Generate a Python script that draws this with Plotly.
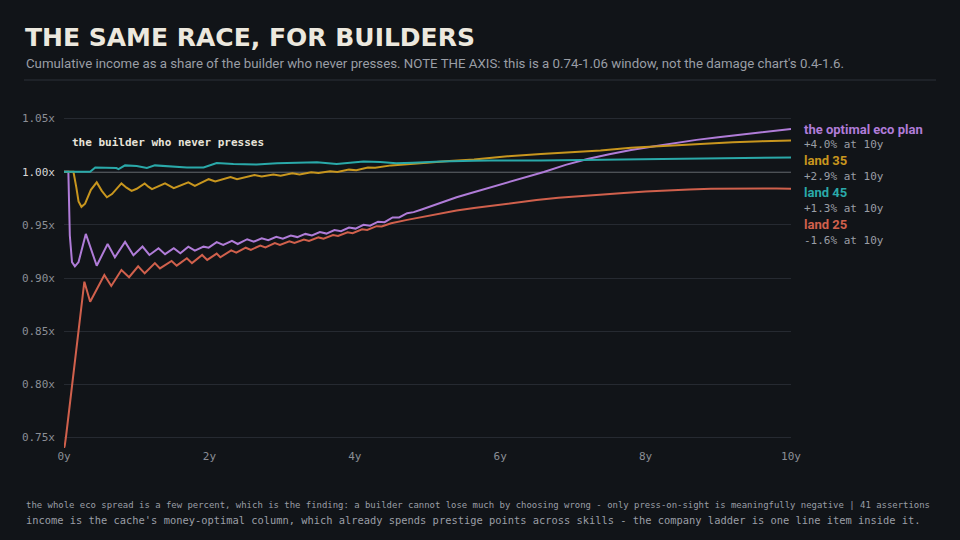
import plotly.graph_objects as go

# ---------------- data ----------------
opt_t = [0, 0.06, 0.08, 0.11, 0.15, 0.20, 0.30, 0.45, 0.60, 0.70, 0.84, 0.955, 1.08, 1.175, 1.30, 1.39,
         1.51, 1.60, 1.71, 1.80, 1.92, 1.99, 2.10, 2.19, 2.31, 2.39, 2.52, 2.61, 2.72, 2.81, 2.92, 3.01,
         3.12, 3.21, 3.32, 3.41, 3.52, 3.61, 3.72, 3.81, 3.92, 4.01, 4.12, 4.21, 4.32, 4.41, 4.52, 4.61,
         4.72, 4.81, 4.92, 5.0, 5.2, 5.4, 5.6, 5.8, 6.0, 6.3, 6.6, 6.9, 7.2, 7.5, 7.8, 8.1, 8.4, 8.7,
         9.0, 9.3, 9.6, 10.0]
opt_v = [1.0, 1.0, 0.940, 0.915, 0.911, 0.915, 0.9415, 0.9116, 0.932, 0.9195, 0.934, 0.9214, 0.9296, 0.9217,
         0.928, 0.9224, 0.928, 0.9233, 0.9295, 0.9258, 0.9295, 0.9286, 0.9337, 0.9311, 0.935, 0.932, 0.9365,
         0.9342, 0.9374, 0.9355, 0.9388, 0.9370, 0.9400, 0.9385, 0.9415, 0.9400, 0.9432, 0.9418, 0.9452,
         0.9440, 0.9475, 0.9465, 0.9500, 0.9492, 0.9530, 0.9525, 0.9570, 0.9570, 0.9610, 0.9620, 0.9645,
         0.9665, 0.9715, 0.9760, 0.9800, 0.9840, 0.9875, 0.9935, 0.9998, 1.0065, 1.0120, 1.0165, 1.0205,
         1.0237, 1.0270, 1.0300, 1.0325, 1.0348, 1.0372, 1.0403]

l35_t = [0, 0.13, 0.17, 0.20, 0.24, 0.29, 0.37, 0.45, 0.52, 0.59, 0.66, 0.79, 0.86, 0.93, 1.0, 1.11,
         1.16, 1.21, 1.39, 1.51, 1.71, 1.80, 1.99, 2.08, 2.29, 2.38, 2.62, 2.72, 2.88, 2.98, 3.14, 3.24,
         3.40, 3.50, 3.66, 3.76, 3.92, 4.02, 4.18, 4.28, 4.5, 4.72, 5.0, 5.3, 5.64, 5.9, 6.1, 6.56, 7.0,
         7.38, 7.8, 8.3, 8.76, 9.2, 9.6, 10.0]
l35_v = [1.0, 1.0, 0.985, 0.972, 0.967, 0.970, 0.983, 0.990, 0.982, 0.976, 0.979, 0.989, 0.985, 0.982,
         0.984, 0.989, 0.986, 0.9837, 0.989, 0.9846, 0.990, 0.9868, 0.993, 0.9909, 0.995, 0.993, 0.997,
         0.9955, 0.9975, 0.9962, 0.9985, 0.9975, 0.9995, 0.9988, 1.0005, 0.9998, 1.0020, 1.0015, 1.0040,
         1.0038, 1.0060, 1.0072, 1.0090, 1.0102, 1.0115, 1.0132, 1.0145, 1.0168, 1.0185, 1.0201, 1.0225,
         1.0245, 1.0264, 1.0278, 1.0288, 1.0295]

l45_t = [0, 0.36, 0.43, 0.72, 0.75, 0.84, 1.0, 1.14, 1.25, 1.51, 1.69, 1.92, 2.10, 2.33, 2.65, 2.93,
         3.25, 3.48, 3.75, 4.12, 4.35, 4.57, 4.8, 5.18, 5.64, 5.87, 6.56, 7.0, 8.07, 9.0, 10.0]
l45_v = [1.0, 1.0, 1.004, 1.0035, 1.0025, 1.006, 1.0055, 1.0035, 1.006, 1.0045, 1.004, 1.004, 1.0082,
         1.0072, 1.0068, 1.008, 1.0088, 1.009, 1.0072, 1.0097, 1.0092, 1.0080, 1.0085, 1.0097, 1.0104,
         1.0107, 1.0107, 1.011, 1.0123, 1.013, 1.0135]

l25_t = [0, 0.01, 0.03, 0.28, 0.36, 0.555, 0.65, 0.79, 0.895, 1.02, 1.11, 1.25, 1.32, 1.48, 1.55, 1.69,
         1.76, 1.90, 1.97, 2.10, 2.15, 2.30, 2.37, 2.50, 2.57, 2.70, 2.77, 2.90, 2.97, 3.10, 3.17, 3.30,
         3.37, 3.50, 3.57, 3.70, 3.77, 3.90, 3.97, 4.10, 4.17, 4.30, 4.37, 4.50, 4.72, 5.0, 5.2, 5.4,
         5.64, 5.9, 6.2, 6.5, 6.8, 7.1, 7.4, 7.7, 8.0, 8.3, 8.6, 8.9, 9.2, 9.5, 9.8, 10.0]
l25_v = [0.740, 0.742, 0.752, 0.8965, 0.8776, 0.9028, 0.8925, 0.9075, 0.9007, 0.911, 0.9044, 0.914, 0.909,
         0.916, 0.9116, 0.9186, 0.914, 0.9217, 0.917, 0.923, 0.9195, 0.9260, 0.9238, 0.9285, 0.9265, 0.9305,
         0.9288, 0.9328, 0.9312, 0.9345, 0.9330, 0.9362, 0.9348, 0.9382, 0.9370, 0.9405, 0.9395, 0.9430,
         0.9422, 0.9458, 0.9452, 0.9488, 0.9485, 0.9515, 0.9547, 0.9585, 0.9612, 0.9635, 0.9658, 0.9682,
         0.9710, 0.9735, 0.9755, 0.9772, 0.9785, 0.9800, 0.9815, 0.9826, 0.9834, 0.9840, 0.9843, 0.9843,
         0.9842, 0.9840]

series_names = ["the optimal eco plan", "land 35", "land 45", "land 25"]
series_notes = ["+4.0% at 10y", "+2.9% at 10y", "+1.3% at 10y", "-1.6% at 10y"]

y_ticks = [0.75, 0.80, 0.85, 0.90, 0.95, 1.00, 1.05]
x_ticks = [0, 2, 4, 6, 8, 10]

title = "THE SAME RACE, FOR BUILDERS"
subtitle = ("Cumulative income as a share of the builder who never presses. NOTE THE AXIS: "
            "this is a 0.74-1.06 window, not the damage chart's 0.4-1.6.")
baseline_label = "the builder who never presses"
foot1 = ("the whole eco spread is a few percent, which is the finding: a builder cannot lose much by "
         "choosing wrong - only press-on-sight is meaningfully negative | 41 assertions")
foot2 = ("income is the cache's money-optimal column, which already spends prestige points across "
         "skills - the company ladder is one line item inside it.")

# ---------------- style ----------------
BG = "#111418"
GRID = "#262a31"
colors = ["#b07cd8", "#c8961e", "#2aa9a9", "#d0604c"]
MONO = "DejaVu Sans Mono"
SANS = "Roboto"

W_FIG, H_FIG = 960, 540
L, R, T, B = 64, 169, 108, 92
PW, PH = W_FIG - L - R, H_FIG - T - B


def px(x):
    return (x - L) / PW


def py(y):
    return (H_FIG - B - y) / PH


fig = go.Figure()
for t, v, c, n in zip([opt_t, l35_t, l45_t, l25_t], [opt_v, l35_v, l45_v, l25_v], colors, series_names):
    fig.add_trace(go.Scatter(x=t, y=v, mode="lines", name=n, line=dict(color=c, width=2),
                             hoverinfo="skip"))

ticktext = []
for v in y_ticks:
    s = f"{v:.2f}x"
    if abs(v - 1.0) < 1e-9:
        s = f"<span style='color:#d8d8d8'>{s}</span>"
    ticktext.append(s)

fig.update_layout(
    width=W_FIG, height=H_FIG,
    paper_bgcolor=BG, plot_bgcolor=BG,
    margin=dict(l=L, r=R, t=T, b=B),
    showlegend=False,
    xaxis=dict(range=[0, 10], tickvals=x_ticks, ticktext=[f"{v}y" for v in x_ticks],
               showgrid=False, zeroline=False, showline=False, ticks="",
               tickfont=dict(family=MONO, size=11, color="#8b8f96")),
    yaxis=dict(range=[0.74, 1.06], tickvals=y_ticks, ticktext=ticktext,
               showgrid=True, gridcolor=GRID, gridwidth=1, zeroline=False, showline=False,
               ticks="", ticklabelstandoff=8,
               tickfont=dict(family=MONO, size=11, color="#8b8f96")),
)

fig.add_shape(type="line", xref="paper", yref="y", x0=0, x1=1, y0=1.0, y1=1.0,
              line=dict(color="#8a8d92", width=1.5), layer="below")
fig.add_shape(type="line", xref="paper", yref="paper", x0=px(24), x1=px(936), y0=py(80), y1=py(80),
              line=dict(color="#2c3038", width=1))

ann = []
ann.append(dict(text=f"<b>{title}</b>", x=px(23), y=py(37), xanchor="left", yanchor="middle",
                font=dict(family="DejaVu Sans", size=25, color="#ece8de")))
ann.append(dict(text=subtitle, x=px(24), y=py(63), xanchor="left", yanchor="middle",
                font=dict(family=SANS, size=13.25, color="#9a9ea6")))
ann.append(dict(text=f"<b>{baseline_label}</b>", x=px(70), y=py(142), xanchor="left", yanchor="middle",
                font=dict(family=MONO, size=11, color="#e8e4da")))
label_y = [129, 160.5, 192.3, 224.3]
for name, note, c, yy in zip(series_names, series_notes, colors, label_y):
    ann.append(dict(text=f"<b>{name}</b>", x=px(802), y=py(yy), xanchor="left", yanchor="middle",
                    font=dict(family=SANS, size=13, color=c)))
    ann.append(dict(text=note, x=px(802), y=py(yy + 16), xanchor="left", yanchor="middle",
                    font=dict(family=MONO, size=11, color="#9a9ea6")))
ann.append(dict(text=foot1, x=px(24), y=py(505), xanchor="left", yanchor="middle",
                font=dict(family=MONO, size=8.95, color="#9a9ea6")))
ann.append(dict(text=foot2, x=px(24), y=py(520), xanchor="left", yanchor="middle",
                font=dict(family=MONO, size=10.4, color="#9a9ea6")))
for a in ann:
    a.update(xref="paper", yref="paper", showarrow=False)
    fig.add_annotation(**a)

fig.write_html("out.html", config={"displayModeBar": False},
               post_script="document.body.style.margin='0';"
                           "document.body.style.background='#111418';")
